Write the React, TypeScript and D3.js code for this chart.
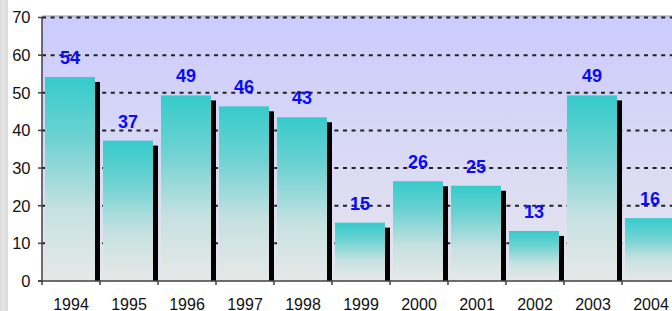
import { useMemo } from "react";
import * as d3 from "d3";

const years = ["1994", "1995", "1996", "1997", "1998", "1999", "2000", "2001", "2002", "2003", "2004"];
const values = [54.2, 37.3, 49.3, 46.4, 43.5, 15.5, 26.5, 25.3, 13.3, 49.3, 16.7];
const yTicks = [0, 10, 20, 30, 40, 50, 60, 70];

const W = 672;
const H = 311;
const m = { top: 17.5, left: 42, bottom: 30 };
const band = 58;

export default function App() {
  const x = useMemo(
    () => d3.scaleBand<string>().domain(years).range([m.left, m.left + band * years.length]).padding(0),
    []
  );
  const y = useMemo(() => d3.scaleLinear().domain([0, 70]).range([H - m.bottom, m.top]), []);
  const y0 = y(0);

  return (
    <svg
      width={W}
      height={H}
      style={{ position: "absolute", left: 0, top: 0, display: "block", fontFamily: "Arial, 'Liberation Sans', sans-serif" }}
    >
      <defs>
        <linearGradient id="plotBg" x1="0" y1="0" x2="0" y2="1">
          <stop offset="0%" stopColor="#cbcbfd" />
          <stop offset="100%" stopColor="#e6e6ee" />
        </linearGradient>
        <linearGradient id="barFill" x1="0" y1="0" x2="0" y2="1">
          <stop offset="0%" stopColor="#36cbcb" />
          <stop offset="30%" stopColor="#6ed2d2" />
          <stop offset="65%" stopColor="#c6e1e1" />
          <stop offset="100%" stopColor="#e8e8e8" />
        </linearGradient>
      </defs>

      <rect x={0} y={0} width={W} height={H} fill="#fff" />
      {/* textured strip on the far left */}
      <rect x={0} y={0} width={8} height={H} fill="#dedede" />
      <rect x={2} y={0} width={3} height={H} fill="#e6e6e6" />

      {/* plot area */}
      <rect x={m.left} y={y(70) - 1.5} width={W - m.left} height={y0 - y(70) + 1.5} fill="url(#plotBg)" />
      <line x1={m.left} x2={W} y1={y(70) - 1.5} y2={y(70) - 1.5} stroke="#999" strokeWidth={1} />

      {/* gridlines */}
      {yTicks.filter((t) => t > 0).map((t) => (
        <line
          key={t}
          x1={m.left}
          x2={W}
          y1={y(t)}
          y2={y(t)}
          stroke="#222"
          strokeWidth={2}
          strokeDasharray="4,4.6"
        />
      ))}

      {/* bars with shadows */}
      {years.map((yr, i) => {
        const bx = (x(yr) ?? 0) + 3;
        const bw = 50;
        const top = y(values[i]);
        return (
          <g key={yr}>
            <rect x={bx + 5} y={top + 5} width={bw} height={y0 - top - 5} fill="#000" />
            <rect x={bx} y={top} width={bw} height={y0 - top} fill="url(#barFill)" />
            <text
              x={bx + bw / 2}
              y={top - 13}
              textAnchor="middle"
              fontSize={18}
              fontWeight="bold"
              fill="#0a0aff"
            >
              {Math.floor(values[i])}
            </text>
          </g>
        );
      })}

      {/* y axis */}
      <line x1={m.left} x2={m.left} y1={y(70)} y2={y0 + 4} stroke="#404040" strokeWidth={1.5} />
      {yTicks.map((t) => (
        <g key={t}>
          <line x1={m.left - 4} x2={m.left} y1={y(t)} y2={y(t)} stroke="#404040" strokeWidth={1.5} />
          <text x={30.5} y={y(t)} dy="0.36em" textAnchor="end" fontSize={16.5} fill="#111">
            {t}
          </text>
        </g>
      ))}

      {/* x axis */}
      <line x1={m.left - 4} x2={W} y1={y0} y2={y0} stroke="#404040" strokeWidth={1.5} />
      {years.map((yr) => (
        <line
          key={"t" + yr}
          x1={(x(yr) ?? 0) + band}
          x2={(x(yr) ?? 0) + band}
          y1={y0}
          y2={y0 + 4}
          stroke="#404040"
          strokeWidth={1.5}
        />
      ))}
      {years.map((yr) => (
        <text
          key={"l" + yr}
          x={(x(yr) ?? 0) + band / 2}
          y={309.5}
          textAnchor="middle"
          fontSize={16}
          fill="#111"
        >
          {yr}
        </text>
      ))}
    </svg>
  );
}
